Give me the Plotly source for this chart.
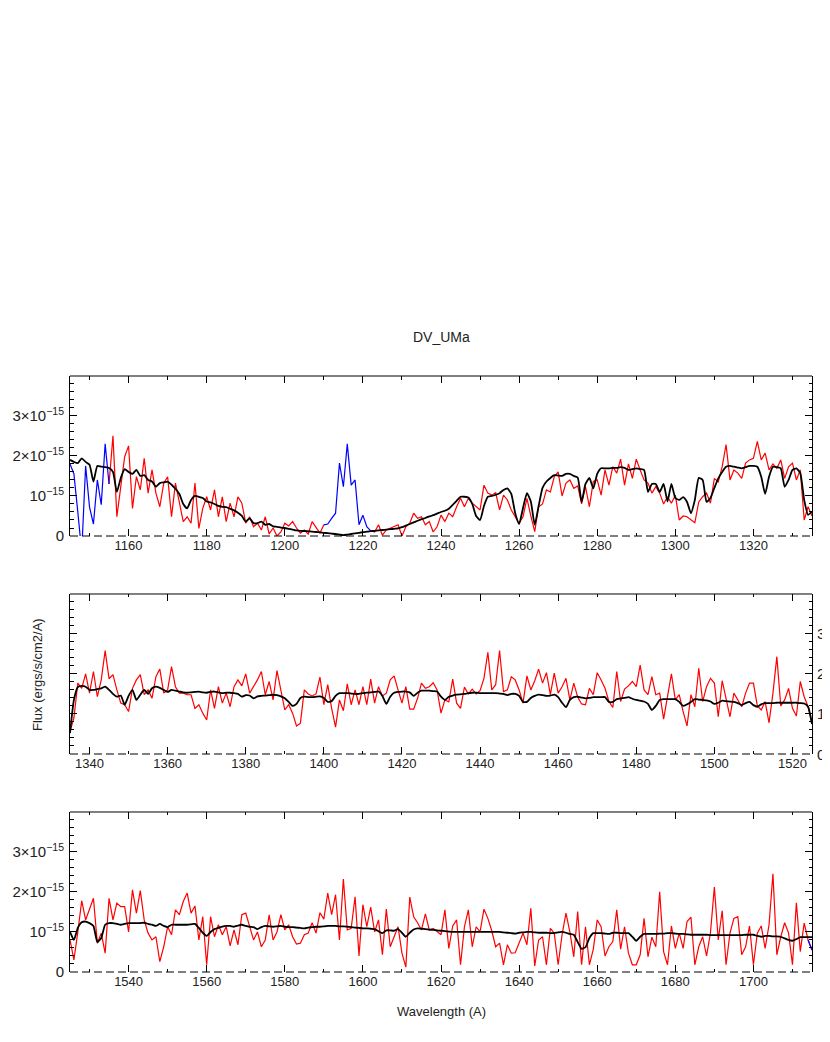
import numpy as np
import plotly.graph_objects as go
from plotly.subplots import make_subplots

# wavelength coverage of each panel (A), 1 A sampling
ranges = [(1145, 1335), (1335, 1525), (1525, 1715)]

# observed flux, units of 1e-15 ergs/s/cm2/A
flux_1 = [1.8, 1.55, 0.6, -0.4, 1.75, 0.72, 0.3, 1.4, 0.78, 2.3,
          1.3, 2.5, 0.48, 1.23, 1.98, 2.25, 0.69, 1.48, 1.15, 1.94,
          1.07, 1.65, 1.07, 0.73, 1.32, 1.48, 0.48, 1.32, 0.82, 0.36,
          0.48, 0.32, 1.32, 0.19, 0.69, 0.98, 0.65, 1.15, 0.48, 0.98,
          0.36, 0.82, 0.48, 0.98, 0.82, 0.32, 0.48, 0.23, 0.32, 0.15,
          0.48, 0.05, 0.2, 0.0, 0.1, 0.32, 0.25, 0.36, 0.2, 0.07,
          0.15, 0.05, 0.36, 0.23, 0.07, 0.28, 0.3, 0.44, 0.57, 1.82,
          1.23, 2.3, 1.27, 1.4, 0.28, 0.52, 0.23, 0.13, 0.1, 0.28,
          0.02, 0.15, 0.2, 0.23, 0.28, 0.0, 0.23, 0.32, 0.57, 0.44,
          0.48, 0.28, 0.36, 0.1, 0.23, 0.52, 0.36, 0.57, 0.48, 0.73,
          0.94, 0.73, 0.94, 0.82, 0.73, 0.65, 1.27, 1.07, 1.02, 1.08,
          0.65, 1.02, 0.9, 0.65, 0.48, 0.32, 0.48, 0.94, 0.5, 0.11,
          0.73, 0.8, 1.15, 1.1, 1.48, 1.6, 1.0, 1.32, 1.4, 1.19,
          1.25, 0.8, 1.23, 0.73, 1.36, 1.4, 1.02, 1.65, 1.27, 1.73,
          1.57, 1.92, 1.27, 1.8, 1.44, 1.92, 1.65, 1.4, 1.32, 1.07,
          1.23, 1.07, 0.8, 0.98, 0.82, 1.02, 0.4, 0.5, 0.48, 0.4,
          0.33, 0.85, 0.98, 1.07, 0.82, 1.44, 1.35, 1.73, 2.28, 1.4,
          1.65, 1.57, 1.44, 1.82, 1.9, 1.94, 2.36, 1.9, 2.07, 1.65,
          1.8, 1.69, 1.9, 1.44, 1.73, 1.82, 1.4, 1.65, 0.4, 0.73,
          0.5]
flux_2 = [0.56, 0.9, 1.77, 1.64, 2.0, 1.52, 2.06, 1.43, 1.85, 2.58,
          1.88, 1.98, 1.6, 1.27, 1.23, 1.06, 1.64, 1.85, 1.98, 1.48,
          1.6, 1.39, 1.93, 2.12, 1.52, 1.6, 2.18, 1.68, 1.52, 1.52,
          1.48, 1.48, 1.14, 1.23, 1.02, 0.85, 1.6, 1.14, 1.68, 1.27,
          1.52, 1.18, 1.68, 1.85, 1.7, 2.0, 1.52, 1.68, 1.85, 2.06,
          1.48, 1.81, 1.35, 2.08, 1.6, 1.1, 1.23, 1.02, 0.7, 0.77,
          1.6, 1.5, 1.45, 1.5, 1.92, 1.23, 1.73, 1.14, 0.67, 1.35,
          1.08, 1.75, 1.23, 1.6, 1.23, 1.68, 1.23, 1.87, 1.27, 1.68,
          1.45, 1.52, 1.85, 1.95, 1.6, 1.27, 1.68, 1.12, 1.12, 1.39,
          1.77, 1.64, 1.68, 1.78, 1.6, 1.02, 1.35, 1.3, 1.87, 1.27,
          1.14, 1.67, 1.5, 1.62, 1.5, 1.58, 1.89, 2.54, 1.6, 1.73,
          2.58, 1.56, 1.6, 1.93, 1.85, 1.6, 1.27, 1.95, 1.6, 1.83,
          2.12, 1.77, 2.03, 1.48, 2.02, 1.52, 1.68, 1.89, 1.35, 1.77,
          1.42, 1.25, 1.23, 1.64, 1.48, 2.03, 1.85, 1.64, 1.31, 1.16,
          2.06, 1.31, 1.62, 1.7, 1.81, 1.68, 2.22, 1.6, 1.48, 1.93,
          1.48, 1.52, 0.87, 1.48, 2.0, 1.35, 1.48, 1.06, 0.7, 1.48,
          1.18, 2.14, 1.31, 1.68, 1.89, 1.77, 0.93, 1.83, 1.35, 0.93,
          1.52, 1.35, 1.18, 1.52, 1.77, 1.77, 1.2, 1.1, 1.31, 0.78,
          1.52, 2.43, 1.2, 1.35, 1.64, 1.14, 0.95, 1.81, 1.43, 1.18,
          0.77]
flux_3 = [0.8, 0.3, 1.0, 1.78, 1.3, 1.55, 1.84, 0.72, 0.97, 0.47,
          1.84, 1.3, 1.72, 1.63, 1.63, 1.0, 2.05, 1.47, 2.03, 1.3,
          0.97, 0.8, 0.88, 0.26, 0.63, 1.13, 0.93, 1.55, 1.43, 1.76,
          1.97, 1.47, 1.65, 0.8, 1.38, 0.18, 1.38, 0.88, 1.18, 0.93,
          1.13, 0.65, 1.05, 0.68, 1.43, 1.47, 1.13, 0.8, 1.0, 0.63,
          0.8, 1.43, 0.8, 1.0, 1.43, 1.05, 1.18, 0.88, 0.7, 0.72,
          0.93, 0.97, 1.23, 0.97, 1.48, 1.32, 1.97, 1.43, 1.93, 0.8,
          2.32, 1.05, 1.09, 1.88, 0.4, 1.68, 1.13, 1.62, 1.0, 1.3,
          0.43, 1.57, 0.63, 0.88, 1.13, 0.47, 0.12, 1.87, 1.38, 1.23,
          1.05, 1.45, 1.05, 1.09, 1.0, 0.93, 1.55, 0.59, 1.15, 1.3,
          0.18, 1.13, 1.55, 0.63, 1.13, 1.0, 1.57, 1.34, 1.03, 0.63,
          0.72, 0.18, 0.68, 0.47, 0.48, 0.72, 0.97, 0.68, 1.59, 0.15,
          0.8, 0.88, 0.18, 1.09, 0.97, 0.18, 0.93, 1.47, 1.0, 0.38,
          1.51, 0.18, 1.13, 0.18, 0.57, 1.3, 1.13, 0.4, 0.63, 0.76,
          1.55, 0.57, 1.13, 0.47, 0.18, 0.18, 0.43, 1.34, 0.38, 0.87,
          0.63, 2.0, 0.51, 0.18, 1.15, 0.59, 0.97, 0.59, 1.26, 1.37,
          0.18, 0.63, 0.88, 0.4, 0.98, 2.12, 0.8, 1.53, 0.18, 0.97,
          1.34, 1.38, 0.43, 0.63, 1.15, 0.18, 0.97, 1.15, 0.59, 1.18,
          2.45, 0.43, 0.88, 1.23, 0.97, 0.18, 1.73, 0.51, 1.22, 0.8,
          0.55]

# model spectrum, same grid
model_1 = [1.9, 1.85, 1.82, 1.94, 1.85, 1.78, 1.36, 1.75, 1.73, 1.72,
           1.7, 1.6, 1.1, 1.45, 1.67, 1.6, 1.55, 1.65, 1.5, 1.52,
           1.4, 1.36, 1.23, 1.32, 1.34, 1.36, 1.28, 1.18, 1.05, 0.8,
           0.69, 0.9, 1.0, 0.98, 0.95, 0.86, 0.84, 0.8, 0.75, 0.73,
           0.72, 0.68, 0.64, 0.58, 0.5, 0.36, 0.44, 0.32, 0.32, 0.36,
           0.28, 0.3, 0.24, 0.23, 0.21, 0.2, 0.18, 0.16, 0.14, 0.13,
           0.125, 0.12, 0.11, 0.1, 0.09, 0.08, 0.07, 0.06, 0.05, 0.035,
           0.02, 0.035, 0.05, 0.065, 0.08, 0.095, 0.11, 0.12, 0.13, 0.14,
           0.15, 0.16, 0.17, 0.18, 0.19, 0.22, 0.26, 0.3, 0.34, 0.38,
           0.42, 0.45, 0.49, 0.52, 0.56, 0.6, 0.63, 0.68, 0.78, 0.88,
           0.98, 0.98, 0.96, 0.8, 0.5, 0.4, 0.75, 0.98, 1.0, 1.03,
           1.07, 1.15, 1.19, 1.05, 0.57, 0.3, 0.7, 1.07, 0.86, 0.28,
           0.75, 1.2, 1.36, 1.45, 1.52, 1.51, 1.5, 1.55, 1.55, 1.5,
           1.46, 0.85, 1.3, 1.45, 1.19, 1.55, 1.69, 1.69, 1.69, 1.7,
           1.7, 1.72, 1.7, 1.65, 1.67, 1.69, 1.67, 1.65, 1.1, 1.3,
           1.3, 1.1, 1.3, 0.86, 1.3, 0.95, 0.9, 0.97, 0.85, 0.57,
           0.9, 1.45, 1.4, 0.85, 0.95, 1.2, 1.44, 1.6, 1.73, 1.75,
           1.73, 1.71, 1.69, 1.72, 1.75, 1.75, 1.73, 1.48, 1.05, 1.48,
           1.73, 1.72, 1.69, 1.23, 1.4, 1.65, 1.69, 1.57, 0.9, 0.53,
           0.61]
model_2 = [0.52, 1.35, 1.67, 1.7, 1.68, 1.6, 1.6, 1.62, 1.64, 1.68,
           1.6, 1.5, 1.43, 1.46, 1.23, 1.45, 1.6, 1.35, 1.48, 1.6,
           1.5, 1.64, 1.68, 1.65, 1.6, 1.55, 1.6, 1.58, 1.56, 1.54,
           1.53, 1.54, 1.55, 1.56, 1.54, 1.53, 1.55, 1.56, 1.54, 1.52,
           1.53, 1.53, 1.52, 1.5, 1.43, 1.47, 1.46, 1.39, 1.44, 1.45,
           1.46, 1.47, 1.48, 1.47, 1.44, 1.39, 1.3, 1.2, 1.25, 1.4,
           1.43, 1.42, 1.42, 1.43, 1.44, 1.4, 1.3, 1.32, 1.45, 1.52,
           1.52, 1.52, 1.51, 1.5, 1.5, 1.52, 1.53, 1.54, 1.55, 1.56,
           1.45, 1.25, 1.43, 1.53, 1.55, 1.56, 1.56, 1.54, 1.45, 1.53,
           1.58, 1.58, 1.58, 1.57, 1.56, 1.43, 1.35, 1.43, 1.46, 1.48,
           1.49, 1.5, 1.52, 1.53, 1.53, 1.52, 1.52, 1.52, 1.52, 1.52,
           1.51, 1.5, 1.47, 1.5, 1.5, 1.45, 1.3, 1.3, 1.4, 1.45,
           1.48, 1.47, 1.45, 1.46, 1.48, 1.42, 1.28, 1.17, 1.35, 1.42,
           1.43, 1.41, 1.39, 1.4, 1.42, 1.42, 1.42, 1.42, 1.3, 1.3,
           1.37, 1.39, 1.4, 1.42, 1.38, 1.35, 1.33, 1.31, 1.25, 1.1,
           1.2, 1.35, 1.37, 1.37, 1.37, 1.37, 1.3, 1.2, 1.24, 1.3,
           1.37, 1.36, 1.35, 1.34, 1.31, 1.25, 1.28, 1.33, 1.32, 1.31,
           1.3, 1.27, 1.22, 1.27, 1.3, 1.22, 1.18, 1.24, 1.27, 1.27,
           1.27, 1.28, 1.28, 1.28, 1.28, 1.28, 1.28, 1.27, 1.26, 1.18,
           0.75]
model_3 = [1.0, 0.8, 1.1, 1.24, 1.26, 1.22, 1.15, 0.75, 0.85, 1.18,
           1.22, 1.22, 1.2, 1.18, 1.2, 1.22, 1.22, 1.22, 1.22, 1.23,
           1.2, 1.18, 1.15, 1.2, 1.15, 1.12, 1.18, 1.18, 1.18, 1.18,
           1.18, 1.19, 1.2, 1.1, 0.98, 0.9, 1.0, 1.07, 1.1, 1.13,
           1.15, 1.15, 1.13, 1.16, 1.18, 1.15, 1.13, 1.12, 1.07, 1.12,
           1.15, 1.14, 1.13, 1.14, 1.15, 1.13, 1.12, 1.12, 1.11, 1.1,
           1.09, 1.11, 1.12, 1.13, 1.13, 1.14, 1.15, 1.15, 1.15, 1.14,
           1.14, 1.13, 1.12, 1.11, 1.1, 1.09, 1.09, 1.08, 1.07, 1.02,
           0.97, 1.04, 1.04, 1.03, 1.07, 0.98, 0.88, 0.98, 1.06, 1.09,
           1.08, 1.07, 1.06, 1.05, 1.04, 1.03, 1.02, 1.01, 1.0, 1.0,
           1.0, 1.0, 1.0, 1.0, 1.0, 1.0, 1.0, 1.0, 1.0, 1.0,
           1.0, 0.99, 0.98, 0.97, 0.96, 0.98, 0.99, 1.0, 1.0, 0.99,
           0.98, 0.98, 0.98, 0.97, 0.97, 0.99, 1.0, 0.98, 0.95, 0.93,
           0.75, 0.58, 0.62, 0.85, 0.97, 0.97, 0.97, 0.96, 0.95, 0.98,
           0.98, 0.97, 0.97, 0.97, 0.88, 0.78, 0.88, 0.95, 0.95, 0.95,
           0.95, 0.96, 0.96, 0.97, 0.97, 0.96, 0.95, 0.95, 0.94, 0.93,
           0.93, 0.93, 0.93, 0.93, 0.92, 0.92, 0.92, 0.92, 0.92, 0.92,
           0.92, 0.92, 0.92, 0.93, 0.93, 0.93, 0.9, 0.88, 0.9, 0.9,
           0.89, 0.89, 0.88, 0.84, 0.8, 0.78, 0.82, 0.87, 0.87, 0.87,
           0.87]

# wavelength intervals flagged as bad (drawn in blue)
masked_1 = [(1145, 1155), (1210, 1222)]
masked_2 = []
masked_3 = [(1714, 1715)]

# labels on the right-hand axis of the middle panel
right_ticks = [0, 1, 2, 3]

fluxes = [flux_1, flux_2, flux_3]
models = [model_1, model_2, model_3]
masks = [masked_1, masked_2, masked_3]

font = "Liberation Sans, Arial, sans-serif"
exp_labels = {"1": "10<sup>\u221215</sup>", "2": "2\u00d710<sup>\u221215</sup>",
              "3": "3\u00d710<sup>\u221215</sup>"}

fig = make_subplots(rows=3, cols=1, vertical_spacing=0.0973)

for i, ((w0, w1), flux, model, masked) in enumerate(zip(ranges, fluxes, models, masks), start=1):
    wave = np.arange(w0, w1 + 1)
    flux = np.array(flux, dtype=float)
    inside = np.zeros(len(wave), bool)
    blue = np.zeros(len(wave), bool)
    for a, b in masked:
        inside |= (wave > a) & (wave < b)
        blue |= (wave >= a) & (wave <= b)
    red_y = np.where(inside, np.nan, flux)
    blue_y = np.where(blue, flux, np.nan)

    fig.add_trace(go.Scatter(x=wave, y=red_y, mode="lines", line=dict(color="#ff0000", width=1.2),
                             showlegend=False), row=i, col=1)
    if masked:
        fig.add_trace(go.Scatter(x=wave, y=blue_y, mode="lines", line=dict(color="#0000ff", width=1.2),
                                 showlegend=False), row=i, col=1)
    fig.add_trace(go.Scatter(x=wave, y=model, mode="lines", line=dict(color="black", width=1.8, shape="spline", smoothing=0.5),
                             showlegend=False), row=i, col=1)

    fig.update_xaxes(row=i, col=1, range=[w0, w1], dtick=20, ticks="inside", ticklen=7, tickwidth=1,
                     tickcolor="black", showline=False, mirror="ticks", showgrid=False, zeroline=False,
                     automargin=False,
                     minor=dict(dtick=10, ticklen=3.5, ticks="inside", tickcolor="black", showgrid=False),
                     tickfont=dict(family=font, size=13, color="#222"))
    fig.update_yaxes(row=i, col=1, range=[0, 3.995], dtick=1, ticks="inside", ticklen=7, tickwidth=1,
                     tickcolor="black", showline=True, linecolor="black", linewidth=1, mirror="ticks",
                     showgrid=False, zeroline=False, automargin=False,
                     minor=dict(dtick=0.2, ticklen=3.5, ticks="inside", tickcolor="black", showgrid=False),
                     showticklabels=(i != 2), labelalias=exp_labels, ticklabelstandoff=2,
                     tickfont=dict(family=font, size=15, color="#222"))

    # solid top frame, dashed zero line along the bottom
    xr = "x domain" if i == 1 else f"x{i} domain"
    yr = "y domain" if i == 1 else f"y{i} domain"
    fig.add_shape(type="line", xref=xr, yref=yr, x0=0, x1=1, y0=1, y1=1, line=dict(color="black", width=1))
    fig.add_shape(type="line", xref=xr, yref=yr, x0=0, x1=1, y0=0, y1=0,
                  line=dict(color="black", width=1, dash="8px,4px"))

# the middle panel is labelled on its right side
for v in right_ticks:
    fig.add_annotation(text=str(v), xref="paper", yref="y2", x=1.0125, y=v, xanchor="center",
                       yanchor="middle", showarrow=False, font=dict(family=font, size=15, color="#222"))

fig.add_annotation(text="DV_UMa", xref="paper", yref="paper", x=0.5, y=1.065, xanchor="center", yanchor="middle",
                   showarrow=False, font=dict(family=font, size=14, color="#222"))
fig.add_annotation(text="Wavelength (A)", xref="paper", yref="paper", x=0.5, y=-0.067, xanchor="center",
                   yanchor="middle", showarrow=False, font=dict(family=font, size=13, color="#222"))
fig.add_annotation(text="Flux (ergs/s/cm2/A)", xref="paper", yref="paper", x=-0.0445, y=0.5, textangle=-90,
                   xanchor="center", yanchor="middle", showarrow=False,
                   font=dict(family=font, size=13, color="#222"))

# the page body adds an 8px margin on every side, so the figure is sized
# to fit inside the window without a vertical scrollbar
fig.update_layout(width=822, height=1026, margin=dict(l=62, r=18, t=368, b=62),
                  plot_bgcolor="white", paper_bgcolor="white")

fig.write_html("out.html")
